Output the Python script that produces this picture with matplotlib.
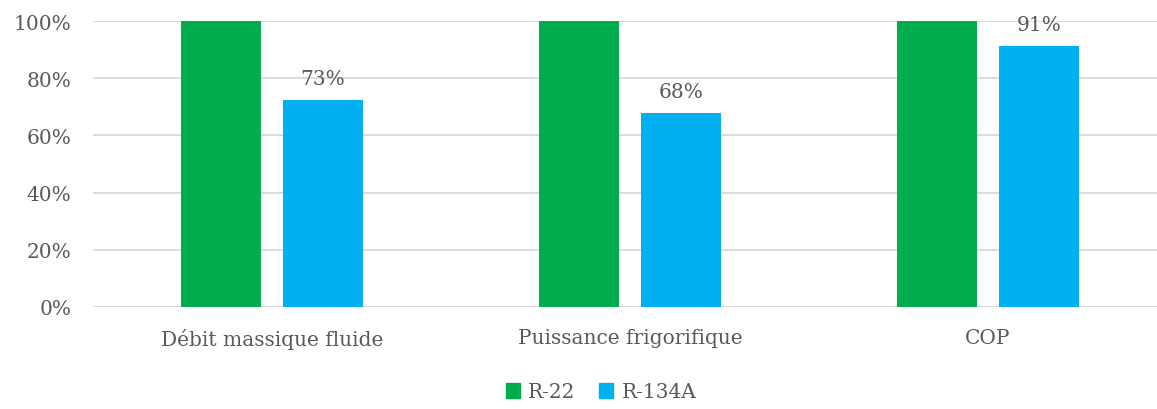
import matplotlib
matplotlib.use("Agg")
import matplotlib.pyplot as plt
import numpy as np
from matplotlib.patches import Patch

categories = ["Débit massique fluide", "Puissance frigorifique", "COP"]
series_names = ["R-22", "R-134A"]
r22 = [1.00, 1.00, 1.00]
r134a = [0.725, 0.68, 0.913]
r134a_labels = ["73%", "68%", "91%"]
yticks = [0, 0.2, 0.4, 0.6, 0.8, 1.0]
ytick_labels = ["0%", "20%", "40%", "60%", "80%", "100%"]

green = "#00AD4E"
blue = "#00B0F0"
text_color = "#595959"
font = ["DejaVu Serif"]

fig = plt.figure(figsize=(11.57, 4.10), dpi=100)
ax = fig.add_axes([93/1157, 102/410, (1157-93)/1157, 286/410])

x = np.arange(len(categories))
w = 0.2235
off = 0.1425
ax.bar(x - off, r22, width=w, color=green, zorder=3)
ax.bar(x + off, r134a, width=w, color=blue, zorder=3)

for xi, v, lab in zip(x, r134a, r134a_labels):
    ax.text(xi + off, v + 0.04, lab, ha="center", va="bottom",
            fontsize=14.5, color=text_color, family=font)

ax.set_xlim(-0.5, 2.5 - 10/358)
ax.set_ylim(0, 1.0)
ax.set_yticks(yticks)
ax.set_yticklabels(ytick_labels, family=font, fontsize=14.5, color=text_color)
ax.set_xticks(x)
ax.set_xticklabels(categories, family=font, fontsize=14.5, color=text_color)
ax.tick_params(axis="both", length=0)
ax.tick_params(axis="y", pad=15.5)
ax.tick_params(axis="x", pad=15)
ax.grid(axis="y", color="#D9D9D9", linewidth=1.3, zorder=0)
ax.set_axisbelow(True)
for s in ax.spines.values():
    s.set_visible(False)

handles = [Patch(color=green, label=series_names[0]), Patch(color=blue, label=series_names[1])]
fig.legend(handles=handles, loc="center", bbox_to_anchor=(601/1157, 1 - 393/410),
           ncol=2, frameon=False, handlelength=0.7, handleheight=0.7,
           handletextpad=0.4, columnspacing=1.2,
           prop={"family": font[0], "size": 14.5}, labelcolor=text_color)

fig.savefig("out.png", dpi=100)
